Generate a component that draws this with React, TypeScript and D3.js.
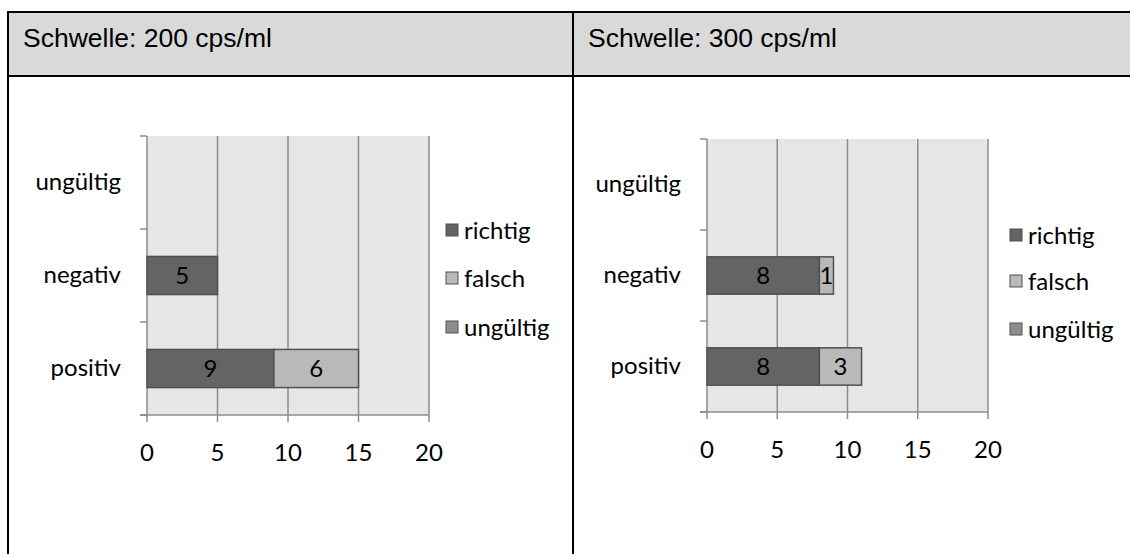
import React from "react";
import * as d3 from "d3";

// ---- data ----
const categories = ["ungültig", "negativ", "positiv"]; // top to bottom
const seriesNames = ["richtig", "falsch", "ungültig"];
const xTicks = [0, 5, 10, 15, 20];

const titles = ["Schwelle: 200 cps/ml", "Schwelle: 300 cps/ml"];

// values per category, same order as `categories`
const richtig200 = [0, 5, 9];
const falsch200 = [0, 0, 6];
const ungueltig200 = [0, 0, 0];

const richtig300 = [0, 8, 8];
const falsch300 = [0, 1, 3];
const ungueltig300 = [0, 0, 0];

// ---- styles ----
const seriesColors = ["#646464", "#b9b9b9", "#8c8c8c"];
const W = 1130;
const H = 554;
const CAL = "Lato, 'Open Sans', sans-serif";
const FS = 24;

const layouts = [
  { px0: 147, px1: 429, py0: 136, py1: 415, labelX: 121, legSq: 446, legText: 464, legY: [230, 278, 327], titleX: 23 },
  { px0: 707, px1: 988, py0: 139, py1: 412, labelX: 681, legSq: 1010, legText: 1028, legY: [235, 281, 329], titleX: 588 },
];

function buildRows(r: number[], f: number[], u: number[]) {
  return categories.map((c, i) => ({ cat: c, richtig: r[i], falsch: f[i], ungültig: u[i] }));
}

const panelData = [
  buildRows(richtig200, falsch200, ungueltig200),
  buildRows(richtig300, falsch300, ungueltig300),
];

function Panel({ idx }: { idx: number }) {
  const L = layouts[idx];
  const rows = panelData[idx];
  const x = d3.scaleLinear().domain([0, 20]).range([L.px0, L.px1]);
  const y = d3
    .scaleBand<string>()
    .domain(categories)
    .range([L.py0, L.py1])
    .paddingInner(0.59)
    .paddingOuter(0.295);
  const stack = d3.stack<any>().keys(seriesNames);
  const stacked = stack(rows as any);
  const step = y.step();
  const catTicks = d3.range(categories.length + 1).map((i) => L.py0 + i * step);

  return (
    <g>
      <rect x={L.px0} y={L.py0} width={L.px1 - L.px0} height={L.py1 - L.py0} fill="#e6e6e6" />
      {xTicks.map((t) => (
        <line key={"g" + t} x1={x(t)} x2={x(t)} y1={L.py0} y2={L.py1 + 7} stroke="#8c8c8c" strokeWidth={1.5} />
      ))}
      {catTicks.map((t, i) => (
        <line key={"ct" + i} x1={L.px0 - 7} x2={L.px0} y1={t} y2={t} stroke="#8c8c8c" strokeWidth={1.5} />
      ))}
      <line x1={L.px0 - 7} x2={L.px1} y1={L.py1} y2={L.py1} stroke="#8c8c8c" strokeWidth={1.5} />
      {stacked.map((s, si) =>
        s.map((d: any, ci: number) => {
          const v = d[1] - d[0];
          if (v <= 0) return null;
          const cat = categories[ci];
          const yy = y(cat)!;
          return (
            <g key={si + "-" + ci}>
              <rect
                x={x(d[0])}
                y={yy}
                width={x(d[1]) - x(d[0])}
                height={y.bandwidth()}
                fill={seriesColors[si]}
                stroke="#505050"
                strokeWidth={1.5}
              />
              <text
                x={(x(d[0]) + x(d[1])) / 2}
                y={yy + y.bandwidth() / 2}
                dy="0.36em"
                textAnchor="middle"
                fontFamily={CAL}
                fontSize={FS}
                fill="#000"
              >
                {v}
              </text>
            </g>
          );
        })
      )}
      {categories.map((c) => (
        <text key={"cl" + c} x={L.labelX} y={y(c)! + y.bandwidth() / 2} dy="0.33em" textAnchor="end" fontFamily={CAL} fontSize={FS} fill="#000">
          {c}
        </text>
      ))}
      {xTicks.map((t) => (
        <text key={"xl" + t} x={x(t)} y={L.py1 + 37} dy="0.36em" textAnchor="middle" fontFamily={CAL} fontSize={FS} fill="#000">
          {t}
        </text>
      ))}
      {seriesNames.map((s, i) => (
        <g key={"lg" + s}>
          <rect x={L.legSq} y={L.legY[i] - 6} width={12} height={12} fill={seriesColors[i]} stroke="#505050" strokeWidth={1} />
          <text x={L.legText} y={L.legY[i]} dy="0.36em" fontFamily={CAL} fontSize={FS} fill="#000">
            {s}
          </text>
        </g>
      ))}
    </g>
  );
}

export default function App() {
  return (
    <svg width={W} height={H} style={{ position: "absolute", left: 0, top: 0, background: "#fff" }}>
      <rect x={8} y={12} width={W - 8} height={64} fill="#d9d9d9" />
      {titles.map((t, i) => (
        <text key={t} x={layouts[i].titleX} y={47} fontFamily="'Liberation Sans', Arial, sans-serif" fontSize={26.5} fill="#000">
          {t}
        </text>
      ))}
      <line x1={8} x2={W} y1={12} y2={12} stroke="#000" strokeWidth={2} />
      <line x1={8} x2={W} y1={76} y2={76} stroke="#000" strokeWidth={2} />
      <line x1={8} x2={8} y1={11} y2={H} stroke="#000" strokeWidth={2} />
      <line x1={573} x2={573} y1={11} y2={H} stroke="#000" strokeWidth={2} />
      <Panel idx={0} />
      <Panel idx={1} />
    </svg>
  );
}
